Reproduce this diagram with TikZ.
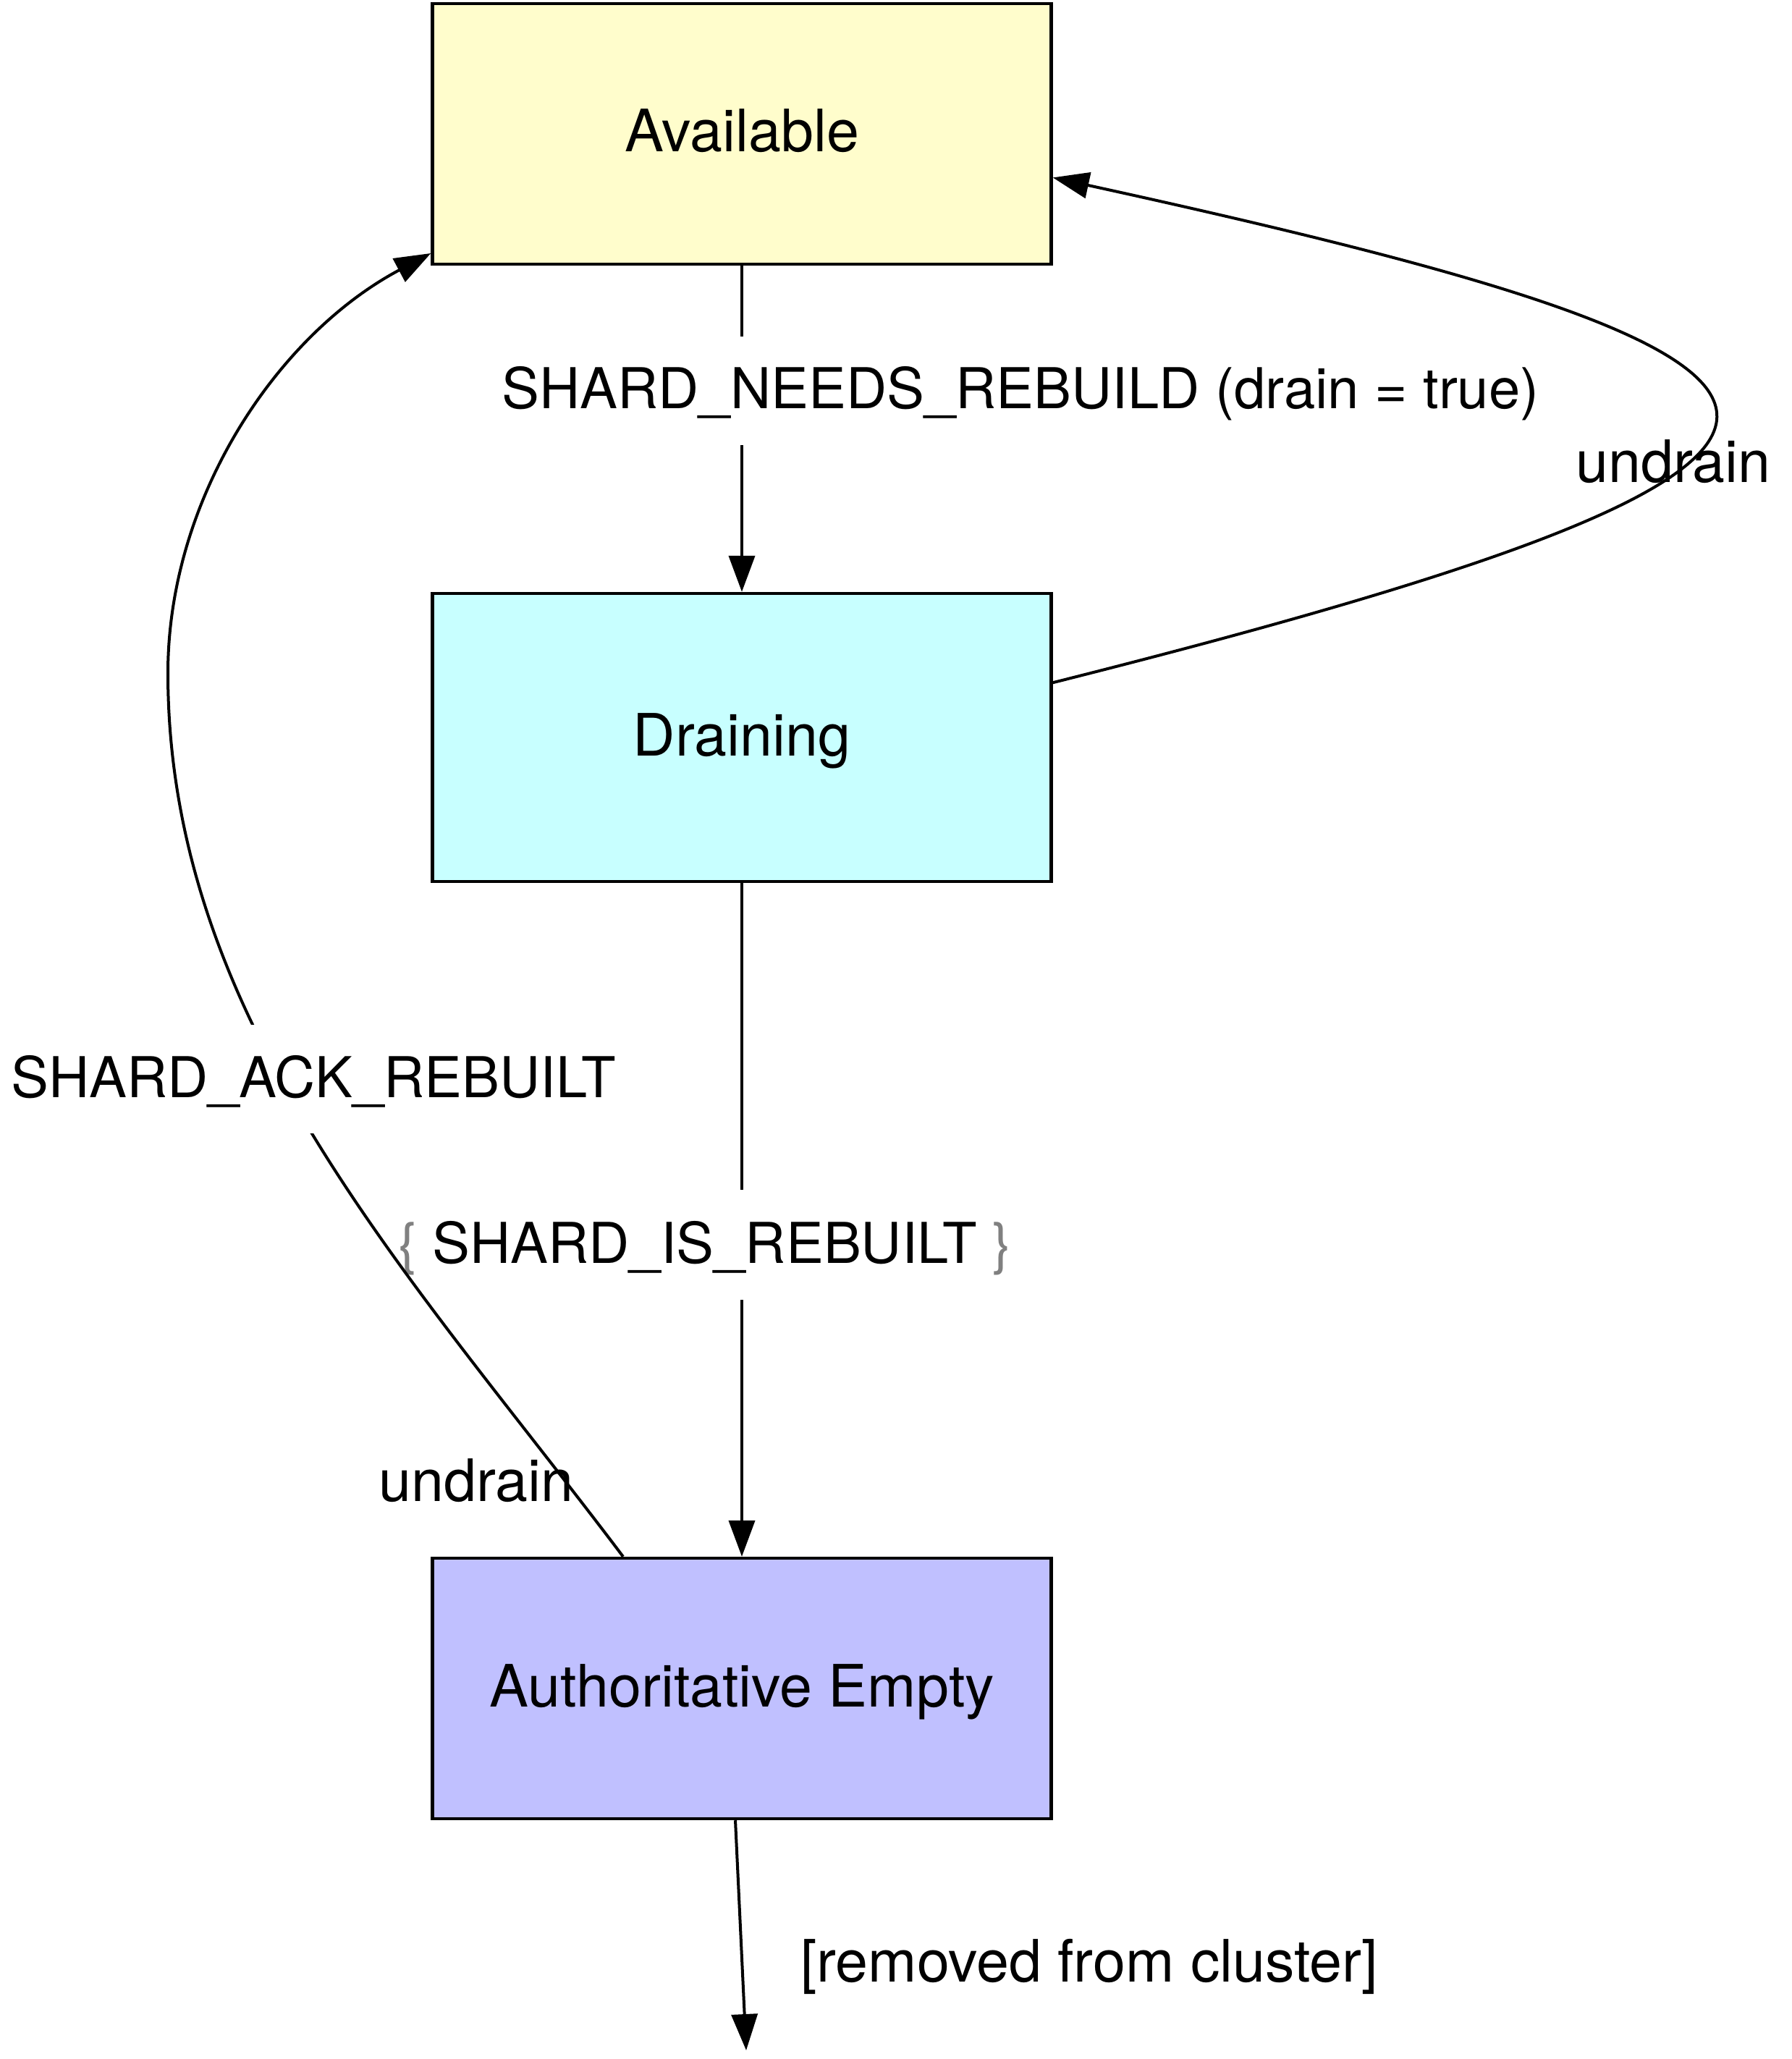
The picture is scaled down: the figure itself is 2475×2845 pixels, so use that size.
\documentclass[tikz,border=0pt]{standalone}
\usepackage{fontspec}
\setmainfont{TeX Gyre Heros}
\usetikzlibrary{arrows.meta}
\definecolor{availfill}{HTML}{FFFDCC}
\definecolor{drainfill}{HTML}{C8FFFF}
\definecolor{authfill}{HTML}{C0C0FF}
\definecolor{bracegray}{HTML}{808080}
\begin{document}
\begin{tikzpicture}[x=0.25pt,y=-0.25pt,
  lowfont/.style={font=\fontsize{20.2}{24}\selectfont},
  capfont/.style={font=\fontsize{19.45}{23}\selectfont},
  statebox/.style={lowfont, draw=black, line width=1.1pt, minimum width=213.75pt, inner sep=0pt, text height=13pt, text depth=0.5pt},
  edgeline/.style={line width=1pt},
  edge/.style={edgeline, -{Triangle[length=12.5pt,width=9pt]}},
  clabel/.style={capfont, inner xsep=0pt, inner ysep=0pt, minimum height=37.5pt, text height=13pt, text depth=0.5pt},
  elabel/.style={clabel, fill=white},
  plabel/.style={lowfont, inner sep=0pt, text height=13pt, text depth=0.5pt}]
\useasboundingbox (0,0) rectangle (2475,2845);
% states
\node[statebox, fill=availfill, minimum height=90pt] (avail) at (1025,185) {Available};
\node[statebox, fill=drainfill, minimum height=99.5pt] (drain) at (1025,1019) {Draining};
\node[statebox, fill=authfill, minimum height=90pt] (auth) at (1025,2333) {Authoritative Empty};
\coordinate (ackmid) at (232,930);
\coordinate (gone) at (1031,2833);
% label of Draining -> Authoritative Empty (line passes round it)
\node[clabel] (lis) at (974,1720) {\textcolor{bracegray}{\{} SHARD\_IS\_REBUILT \textcolor{bracegray}{\}}};
% edges
\draw[edge] (avail) -- (drain);
\draw[edgeline] (drain.south) -- (drain.south |- lis.north);
\draw[edge] (drain.south |- lis.south) -- (auth.north);
\draw[edge] (drain.10.7) .. controls (2720,625) and (2620,500) .. (avail.-8.6);
\draw[edge] (auth.132.2) to[out=127,in=-90,looseness=0.9] (ackmid) to[out=90,in=208,looseness=0.9] (avail.201.3);
\draw[edge] ([xshift=-2.25pt]auth.south) -- (gone);
% labels
\node[elabel] (lneeds) at (1410,540) {SHARD\_NEEDS\_REBUILD (drain = true)};
\node[elabel] (lack) at (433,1491) {SHARD\_ACK\_REBUILT};
\node[plabel] (lund1) at (2312,642) {undrain};
\node[plabel] (lund2) at (658,2049) {undrain};
\node[plabel] (lrem) at (1505,2713) {[removed from cluster]};
\end{tikzpicture}
\end{document}
